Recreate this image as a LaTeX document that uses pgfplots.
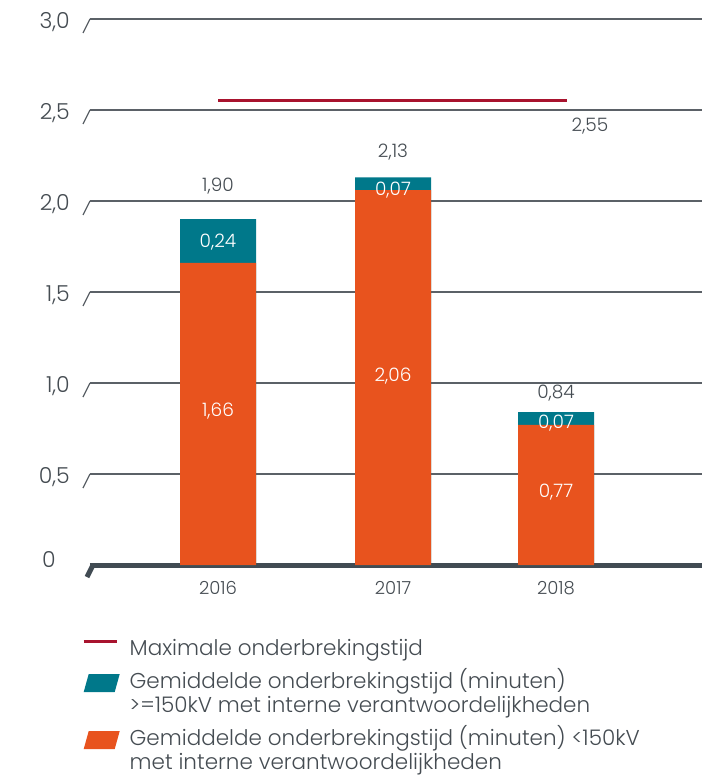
\documentclass[border=0pt]{standalone}
\usepackage{pgfplots}
\pgfplotsset{compat=1.18}
\usepackage{fontspec}
\setmainfont{Poppins Light}

\definecolor{oranje}{HTML}{E8531E}
\definecolor{blauw}{HTML}{00788A}
\definecolor{rood}{HTML}{A8132E}
\definecolor{gridc}{HTML}{5B6167}
\definecolor{basec}{HTML}{414B53}
\definecolor{textc}{HTML}{454C52}

\begin{document}
\begin{tikzpicture}
  \begin{axis}[
    name=ax,
    scale only axis,
    width=612pt, height=546pt,
    xmin=90, xmax=702,
    ymin=0, ymax=3,
    clip=false,
    axis line style={draw=none},
    major tick length=0pt,
    xtick={218,393,556},
    xticklabels={2016,2017,2018},
    x tick label style={anchor=center, yshift=-23pt, font=\fontsize{18}{20}\selectfont, text=textc},
    ytick={0.5,1,1.5,2,2.5,3},
    yticklabels={{0,5},{1,0},{1,5},{2,0},{2,5},{3,0}},
    extra y ticks={0},
    extra y tick labels={0},
    extra y tick style={grid style={basec, line width=5pt},
      y tick label style={xshift=-14pt, yshift=8pt}},
    y tick label style={anchor=east, inner sep=0pt, xshift=-20pt, yshift=-3pt, font=\fontsize{22}{26}\selectfont, text=textc},
    ymajorgrids,
    grid style={gridc, line width=1.3pt},
    legend style={draw=none, fill=none, at={(-0.0131,-0.135)}, anchor=north west,
      inner sep=0pt, row sep=12pt, font=\fontsize{21.5}{23.5}\selectfont, text=textc,
      nodes={inner sep=0pt, align=left},
      /tikz/every odd column/.style={column sep=10pt}},
    legend cell align=left,
  ]
    % maximale onderbrekingstijd
    \addplot[rood, line width=3pt, mark=none,
      legend image code/.code={\draw[rood, line width=3pt] (0pt,6pt) -- (33pt,6pt);}]
      coordinates {(218,2.55) (567,2.55)};
    \addlegendentry{Maximale onderbrekingstijd}
    % totaal (>=150kV deel bovenop)
    \addplot[ybar, bar width=76, bar shift=0pt, fill=blauw, draw=none,
      legend image code/.code={\fill[blauw] (0pt,-1pt) -- (5pt,17pt) -- (36pt,17pt) -- (31pt,-1pt) -- cycle;}]
      coordinates {(218,1.90) (393,2.13) (556,0.84)};
    \addlegendentry{Gemiddelde onderbrekingstijd (minuten)\\>=150kV met interne verantwoordelijkheden}
    % <150kV
    \addplot[ybar, bar width=76, bar shift=0pt, fill=oranje, draw=none,
      legend image code/.code={\fill[oranje] (0pt,-1pt) -- (5pt,17pt) -- (36pt,17pt) -- (31pt,-1pt) -- cycle;}]
      coordinates {(218,1.66) (393,2.06) (556,0.77)};
    \addlegendentry{Gemiddelde onderbrekingstijd (minuten) <150kV\\met interne verantwoordelijkheden}

    % schuine streepjes bij de rasterlijnen
    \pgfplotsinvokeforeach{0.5,1,1.5,2,2.5,3}{
      \draw[gridc, line width=1.3pt] (axis cs:90,#1) -- ++(-7pt,-14pt);
    }
    \draw[basec, line width=5pt] (axis cs:93,0) -- ++(-6pt,-12pt);

    % waarden
    \begin{scope}[every node/.style={font=\fontsize{18.5}{22}\selectfont, text=textc}]
      \node at (axis cs:218,2.082) {1,90};
      \node at (axis cs:393,2.269) {2,13};
      \node at (axis cs:556,0.945) {0,84};
      \node at (axis cs:590,2.412) {2,55};
    \end{scope}
    \begin{scope}[every node/.style={font=\fontsize{18.5}{22}\selectfont, text=white}]
      \node at (axis cs:218,1.775) {0,24};
      \node at (axis cs:218,0.846) {1,66};
      \node at (axis cs:393,2.060) {0,07};
      \node at (axis cs:393,1.038) {2,06};
      \node at (axis cs:556,0.780) {0,07};
      \node at (axis cs:556,0.401) {0,77};
    \end{scope}
  \end{axis}
  \pgfresetboundingbox
  \path[use as bounding box] ([xshift=-90pt,yshift=-211pt]ax.south west) rectangle ([yshift=19pt]ax.north east);
\end{tikzpicture}
\end{document}
